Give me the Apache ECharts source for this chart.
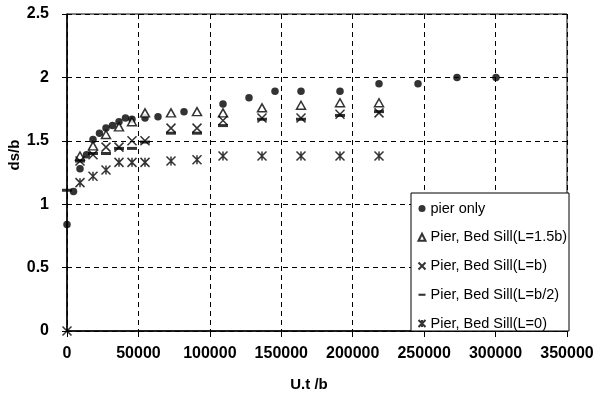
<!DOCTYPE html>
<html>
<head>
<meta charset="utf-8">
<script src="https://cdn.jsdelivr.net/npm/echarts@6/dist/echarts.min.js"></script>
<style>html,body{margin:0;padding:0;background:#fff}#c{width:601px;height:409px}</style>
</head>
<body>
<div id="c"></div>
<script>
// Data
const seriesNames = ['pier only', 'Pier, Bed Sill(L=1.5b)', 'Pier, Bed Sill(L=b)', 'Pier, Bed Sill(L=b/2)', 'Pier, Bed Sill(L=0)'];

const pierOnly = [[0,0.84],[4550,1.10],[9100,1.28],[13650,1.39],[18200,1.51],[22750,1.56],[27300,1.60],[31850,1.62],[36400,1.65],[40950,1.68],[45500,1.67],[54600,1.68],[63700,1.69],[81900,1.73],[109200,1.79],[127400,1.84],[145600,1.89],[163800,1.89],[191100,1.89],[218400,1.95],[245700,1.95],[273000,2.0],[300300,2.0]];

const sillL15b = [[9100,1.38],[18200,1.46],[27300,1.55],[36400,1.61],[45500,1.65],[54600,1.72],[72800,1.72],[91000,1.73],[109200,1.72],[136500,1.76],[163800,1.78],[191100,1.80],[218400,1.80]];

const sillLb = [[0,0],[9100,1.34],[18200,1.39],[27300,1.45],[36400,1.45],[45500,1.50],[54600,1.50],[72800,1.60],[91000,1.60],[109200,1.66],[136500,1.68],[163800,1.68],[191100,1.71],[218400,1.72]];

const sillLb2 = [[0,1.11],[9100,1.34],[18200,1.40],[27300,1.40],[36400,1.44],[45500,1.44],[54600,1.49],[72800,1.56],[91000,1.56],[109200,1.62],[136500,1.67],[163800,1.67],[191100,1.70],[218400,1.73]];

const sillL0 = [[9100,1.17],[18200,1.22],[27300,1.27],[36400,1.33],[45500,1.33],[54600,1.33],[72800,1.34],[91000,1.35],[109200,1.38],[136500,1.38],[163800,1.38],[191100,1.38],[218400,1.38]];

const xAxisMin = 0, xAxisMax = 350000, xAxisStep = 50000;
const yAxisMin = 0, yAxisMax = 2.5, yAxisStep = 0.5;
const xTitle = 'U.t /b';
const yTitle = 'ds/b';

const FONT = '"Liberation Sans", Arial, sans-serif';
const crossPath = 'path://M0,0L10,10M10,0L0,10';
const starPath = 'path://M0,0L10,10M10,0L0,10M5,0L5,10';
const barPath = 'path://M0,0H10V3H0Z';

const chart = echarts.init(document.getElementById('c'), null, {renderer: 'canvas'});
chart.setOption({
  animation: false,
  backgroundColor: '#fff',
  textStyle: {fontFamily: FONT, color: '#000'},
  grid: {left: 67, right: 34, top: 14, bottom: 78, show: true, borderColor: '#000', borderWidth: 1, backgroundColor: 'transparent'},
  xAxis: {
    type: 'value', min: xAxisMin, max: xAxisMax, interval: xAxisStep,
    axisLine: {show: true, onZero: false, lineStyle: {color: '#000', width: 1.5}},
    axisTick: {show: true, inside: false, length: 6, lineStyle: {color: '#000', width: 1}},
    axisLabel: {color: '#000', fontFamily: FONT, fontWeight: 'bold', fontSize: 16, margin: 15, formatter: v => String(v)},
    splitLine: {show: true, lineStyle: {color: '#000', type: [5, 4], width: 1}}
  },
  yAxis: {
    type: 'value', min: yAxisMin, max: yAxisMax, interval: yAxisStep,
    axisLine: {show: true, onZero: false, lineStyle: {color: '#000', width: 1.5}},
    axisTick: {show: true, inside: false, length: 5, lineStyle: {color: '#000', width: 1}},
    axisLabel: {color: '#000', fontFamily: FONT, fontWeight: 'bold', fontSize: 16, margin: 18, formatter: v => String(v)},
    splitLine: {show: true, lineStyle: {color: '#000', type: [5, 4], width: 1}}
  },
  legend: {
    orient: 'vertical', left: 416, top: 201, padding: 0,
    itemWidth: 7, itemHeight: 7, itemGap: 13.75,
    textStyle: {fontFamily: FONT, fontSize: 14.5, color: '#000', lineHeight: 14},
    data: [
      {name: seriesNames[0], icon: 'circle'},
      {name: seriesNames[1], icon: 'triangle'},
      {name: seriesNames[2], icon: crossPath},
      {name: seriesNames[3], icon: barPath},
      {name: seriesNames[4], icon: starPath}
    ]
  },
  graphic: [
    {type: 'rect', z: 3, shape: {x: 411, y: 193, width: 158, height: 138}, style: {fill: '#fff', stroke: '#000', lineWidth: 1}},
    {type: 'text', z: 3, x: 309, y: 385, style: {text: xTitle, font: 'bold 15px ' + FONT, fill: '#000', align: 'center', verticalAlign: 'middle'}},
    {type: 'text', z: 3, x: 15, y: 155, rotation: Math.PI / 2, style: {text: yTitle, font: 'bold 15px ' + FONT, fill: '#000', align: 'center', verticalAlign: 'middle'}}
  ],
  series: [
    {name: seriesNames[0], type: 'scatter', data: pierOnly, symbol: 'circle', symbolSize: 7.5, z: 2,
      itemStyle: {color: '#000'}},
    {name: seriesNames[1], type: 'scatter', data: sillL15b, symbol: 'triangle', symbolSize: [9, 8], z: 3,
      itemStyle: {color: '#fff', borderColor: '#000', borderWidth: 1.5}},
    {name: seriesNames[2], type: 'scatter', data: sillLb, symbol: crossPath, symbolSize: 9, z: 3,
      itemStyle: {color: 'none', borderColor: '#000', borderWidth: 1.5}},
    {name: seriesNames[3], type: 'scatter', data: sillLb2, symbol: 'rect', symbolSize: [10, 3], z: 3,
      itemStyle: {color: '#000'}},
    {name: seriesNames[4], type: 'scatter', data: sillL0, symbol: starPath, symbolSize: 9, z: 3,
      itemStyle: {color: 'none', borderColor: '#000', borderWidth: 1.5}}
  ]
});
</script>
</body>
</html>
